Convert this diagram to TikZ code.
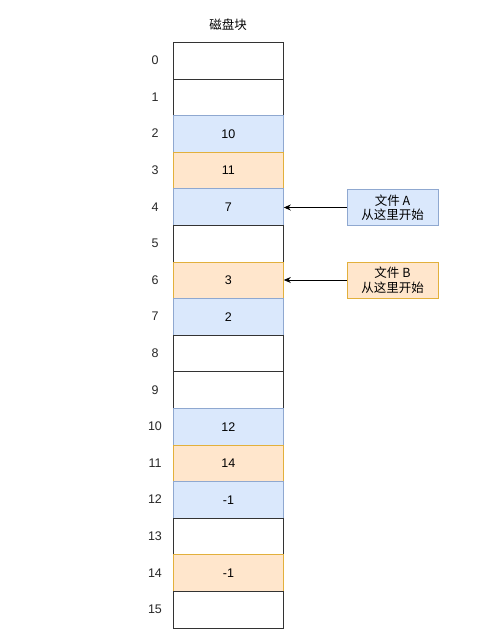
\documentclass[tikz,border=0pt]{standalone}
\usepackage{fontspec}
\setmainfont{Liberation Sans}
\newfontfamily\cjk{Noto Sans CJK SC}
\usetikzlibrary{arrows.meta}
\definecolor{bluefill}{HTML}{DAE8FC}
\definecolor{bluedraw}{HTML}{8FA8D0}
\definecolor{orangefill}{HTML}{FFE6CC}
\definecolor{orangedraw}{HTML}{E2B03C}
\definecolor{cellline}{HTML}{333333}
\tikzset{
  cell/.style={draw=cellline, fill=white, line width=0.8pt, minimum width=110pt, minimum height=36.6pt, inner sep=0pt, anchor=north west, font=\fontsize{12.5}{14}\selectfont},
  bcell/.style={cell, draw=bluedraw, fill=bluefill},
  ocell/.style={cell, draw=orangedraw, fill=orangefill},
  idx/.style={font=\fontsize{12.5}{14}\selectfont, text=black!85},
  note/.style={minimum width=91pt, minimum height=36pt, inner sep=0pt, align=center, font=\fontsize{12.5}{14.5}\selectfont\cjk, line width=0.8pt},
  ptr/.style={-{Stealth[length=7pt,width=6pt]}, line width=0.8pt, draw=black}
}
\begin{document}
\begin{tikzpicture}[x=1pt,y=-1pt]
\useasboundingbox (0,0) rectangle (500,641);
\node[font=\fontsize{12.5}{14}\selectfont\cjk] (title) at (228,25) {磁盘块};
\foreach \i/\st/\v in {0/cell/,1/cell/,2/bcell/10,3/ocell/11,4/bcell/7,5/cell/,6/ocell/3,7/bcell/2,8/cell/,9/cell/,10/bcell/12,11/ocell/14,12/bcell/-1,13/cell/,14/ocell/-1,15/cell/}{
  \node[\st] (c\i) at (173,{42+36.6*\i}) {\v};
  \node[idx] (i\i) at (155,{42+36.6*\i+18.3}) {\i};
}
\node[note, draw=bluedraw, fill=bluefill] (na) at (392.5,207.5) {文件 A\\从这里开始};
\node[note, draw=orangedraw, fill=orangefill] (nb) at (392.5,280) {文件 B\\从这里开始};
\draw[ptr] (na.west) -- (na.west -| c4.east);
\draw[ptr] (nb.west) -- (nb.west -| c6.east);
\end{tikzpicture}
\end{document}
